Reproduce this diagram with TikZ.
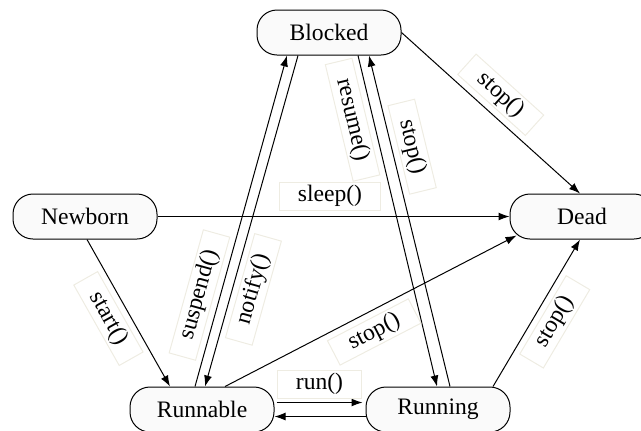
\documentclass[tikz,border=0pt]{standalone}
\usepackage{fontspec}
\setmainfont{Liberation Serif}
\newfontfamily\timesfont{Liberation Serif}
\usetikzlibrary{arrows.meta,calc}
\definecolor{lblframe}{RGB}{238,236,226}

\begin{document}
\begin{tikzpicture}[x=0.5pt,y=-0.5pt,line width=0.5pt]
  \tikzset{state/.style={draw,rounded corners=10pt,fill=black!2,minimum width=72pt,minimum height=22.5pt,inner sep=0pt,font=\timesfont\fontsize{11.8}{14}\selectfont}}
  \tikzset{lbl/.style={draw=lblframe,sloped,inner xsep=9pt,inner ysep=1.5pt,font=\timesfont\fontsize{11.8}{14}\selectfont}}
  \tikzset{>={Latex[length=5.5pt,width=4pt]}}

  \useasboundingbox (0,0) rectangle (641,430);
  \clip (0,0) rectangle (641,430);

  \node [state] (Blocked) at (329,32.5) {Blocked};
  \node [state] (Newborn) at (85,216.5) {Newborn};
  \node [state] (Dead) at (582,216.5) {Dead};
  \node [state] (Runnable) at (202,409.5) {Runnable};
  \node [state] (Running) at (438,409.5) {Running};

  \draw[->] ($(Newborn.south)+(2,0)$) -- node[lbl,pos=0.47,below=3pt] {start()} ($(Runnable.north)+(-32,0)$);
  \draw[->] (Newborn.east) -- node[lbl,pos=0.49,above=3pt] {sleep()} (Dead.west);
  \draw[->] ($(Runnable.north)+(-7,0)$) -- node[lbl,pos=0.26,above=3pt] {suspend()} ($(Blocked.south)+(-42,0)$);
  \draw[->] ($(Blocked.south)+(-31,0)$) -- node[lbl,pos=0.69,below=3pt] {notify()} ($(Runnable.north)+(3,0)$);
  \draw[->] ($(Blocked.south)+(29,0)$) -- node[lbl,pos=0.18,below=3pt] {resume()} ($(Running.north)+(-1,0)$);
  \draw[->] ($(Running.north)+(12,0)$) -- node[lbl,pos=0.71,above=3pt] {stop()} ($(Blocked.south)+(40,0)$);
  \draw[->] (Blocked.east) -- node[lbl,pos=0.48,above=3pt] {stop()} ($(Dead.north)+(-2,0)$);
  \draw[->] ($(Runnable.north)+(23,0)$) -- node[lbl,pos=0.48,below=3pt] {stop()} ($(Dead.south west)+(7,-4)$);
  \draw[->] ($(Running.north)+(55,0)$) -- node[lbl,pos=0.51,below=3pt] {stop()} ($(Dead.south)+(-2,0)$);
  \draw[->] ($(Runnable.east)+(2,-7)$) -- node[lbl,above=2pt] {run()} ($(Running.west)+(-3,-7)$);
  \draw[->] ($(Running.west)+(0,7)$) -- ($(Runnable.east)+(0,7)$);
\end{tikzpicture}
\end{document}
